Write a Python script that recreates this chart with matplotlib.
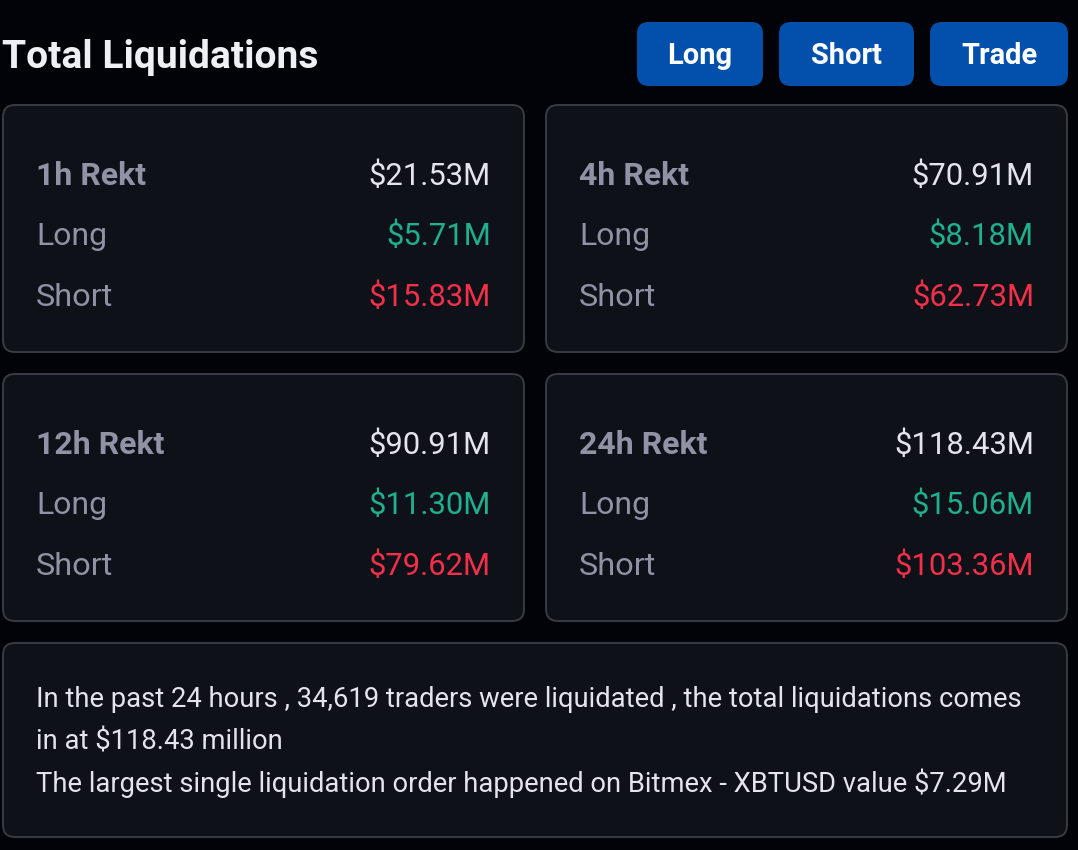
import matplotlib
matplotlib.use('Agg')
import matplotlib.pyplot as plt
from matplotlib.patches import FancyBboxPatch

# Values
periods = ['1h Rekt', '4h Rekt', '12h Rekt', '24h Rekt']
totals = ['$21.53M', '$70.91M', '$90.91M', '$118.43M']
longs = ['$5.71M', '$8.18M', '$11.30M', '$15.06M']
shorts = ['$15.83M', '$62.73M', '$79.62M', '$103.36M']
buttons = ['Long', 'Short', 'Trade']
summary = ['In the past 24 hours , 34,619 traders were liquidated , the total liquidations comes',
           'in at $118.43 million',
           'The largest single liquidation order happened on Bitmex - XBTUSD value $7.29M']

BG = '#020308'
CARD = '#0e1118'
EDGE = '#373c42'
BLUE = '#024fac'
GREY = '#9092a5'
LIGHT = '#e3e4ec'
GREEN = '#20b08e'
RED = '#f2304a'
FONT = 'Roboto'

def px(size):
    return size * 72 / 100

def box(ax, x0, y0, x1, y1, r, face, edge=None):
    ax.add_patch(FancyBboxPatch((x0 + r, y0 + r), x1 - x0 - 2 * r, y1 - y0 - 2 * r,
                                boxstyle='round,pad=%d,rounding_size=%d' % (r, r),
                                fc=face, ec=edge if edge else 'none', lw=1.4))

def label(ax, x, y, s, color, size=31, ha='left', weight='normal'):
    ax.text(x, y, s, color=color, fontsize=px(size), ha=ha, va='baseline',
            family=FONT, fontweight=weight)

fig = plt.figure(figsize=(10.78, 8.5), dpi=100, facecolor=BG)
ax = fig.add_axes([0, 0, 1, 1])
ax.set_xlim(0, 1078)
ax.set_ylim(850, 0)
ax.axis('off')

label(ax, 2, 68, 'Total Liquidations', '#eff0f5', size=39, weight='bold')

# Buttons
button_x = [(637, 763), (779, 914), (930, 1068)]
for name, (x0, x1) in zip(buttons, button_x):
    box(ax, x0, 22, x1, 86, 12, BLUE)
    label(ax, (x0 + x1) / 2, 64, name, 'white', size=29, ha='center', weight='bold')

# Four cards
card_x = [(3, 524), (546, 1067), (3, 524), (546, 1067)]
card_y = [(105, 352), (105, 352), (374, 621), (374, 621)]
for i in range(4):
    x0, x1 = card_x[i]
    y0, y1 = card_y[i]
    box(ax, x0, y0, x1, y1, 12, CARD, EDGE)
    label(ax, x0 + 33, y0 + 80, periods[i], GREY, size=32, weight='bold')
    label(ax, x0 + 33, y0 + 140, 'Long', GREY, size=32)
    label(ax, x0 + 33, y0 + 201, 'Short', GREY, size=32.5)
    label(ax, x1 - 33, y0 + 80, totals[i], LIGHT, ha='right')
    label(ax, x1 - 33, y0 + 140, longs[i], GREEN, ha='right')
    label(ax, x1 - 33, y0 + 201, shorts[i], RED, ha='right')

# Summary card
box(ax, 3, 643, 1067, 837, 12, CARD, EDGE)
for y, line in zip([707, 749, 792], summary):
    label(ax, 36, y, line, LIGHT, size=27.4)

fig.savefig('out.png', dpi=100, facecolor=BG)
